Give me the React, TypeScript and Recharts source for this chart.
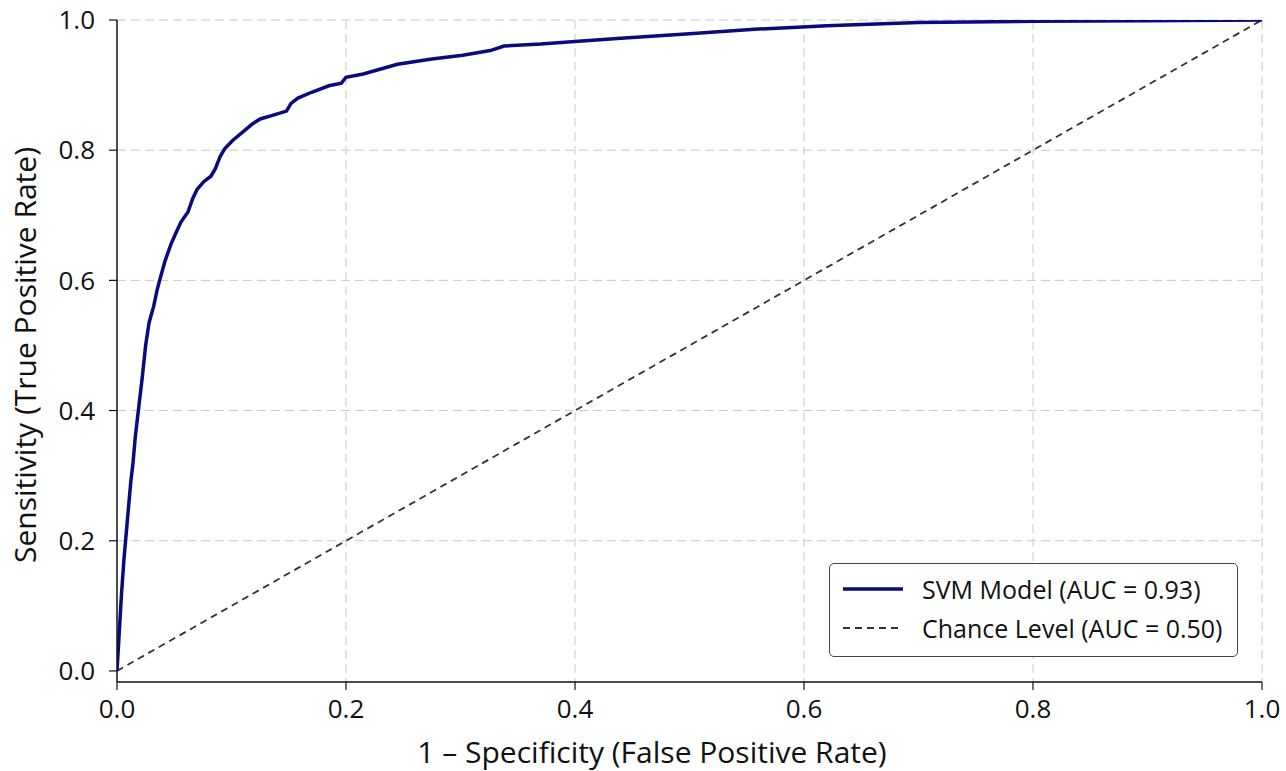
import { CartesianGrid, Label, Line, LineChart, XAxis, YAxis } from "recharts";

// ROC curve (false positive rate, true positive rate)
const fpr = [
  0, 0.002, 0.004, 0.006, 0.008, 0.01, 0.012, 0.014, 0.016, 0.018, 0.02, 0.022, 0.025,
  0.028, 0.032, 0.035, 0.038, 0.042, 0.047, 0.052, 0.056, 0.062, 0.066, 0.07, 0.076,
  0.082, 0.086, 0.09, 0.094, 0.101, 0.11, 0.118, 0.125, 0.135, 0.148, 0.152, 0.158,
  0.17, 0.185, 0.196, 0.2, 0.215, 0.245, 0.275, 0.302, 0.326, 0.338, 0.37, 0.4, 0.44,
  0.5, 0.56, 0.62, 0.7, 0.8, 0.9, 1.0,
];
const tpr = [
  0, 0.06, 0.12, 0.17, 0.21, 0.25, 0.29, 0.32, 0.36, 0.39, 0.42, 0.45, 0.5, 0.535, 0.56,
  0.585, 0.605, 0.63, 0.655, 0.675, 0.69, 0.705, 0.725, 0.74, 0.752, 0.76, 0.772, 0.79,
  0.802, 0.815, 0.828, 0.84, 0.848, 0.853, 0.86, 0.872, 0.88, 0.889, 0.899, 0.903, 0.912,
  0.917, 0.932, 0.94, 0.946, 0.953, 0.96, 0.963, 0.967, 0.972, 0.979, 0.986, 0.991, 0.996,
  0.998, 0.999, 1.0,
];
const chanceFpr = [0, 1];
const chanceTpr = [0, 1];
const ticks = [0, 0.2, 0.4, 0.6, 0.8, 1.0];
const gridValues = [0.2, 0.4, 0.6, 0.8, 1.0];

const rocData = fpr.map((x, i) => ({ fpr: x, tpr: tpr[i] }));
const chanceData = chanceFpr.map((x, i) => ({ fpr: x, tpr: chanceTpr[i] }));

const FONT = "'Open Sans', 'Noto Sans', sans-serif";
const NAVY = "#0a0a80";

function LegendBox() {
  const row = { display: "flex", alignItems: "center", height: 39 } as const;
  return (
    <div
      style={{
        position: "absolute",
        left: 829,
        top: 563,
        border: "1.3px solid #444",
        borderRadius: 5,
        background: "#fff",
        width: 409,
        height: 94,
        boxSizing: "border-box",
        padding: "5px 0 0 13px",
        fontFamily: FONT,
        fontSize: 25,
        color: "#111",
      }}
    >
      <div style={row}>
        <svg width={60} height={10} style={{ marginRight: 19 }}>
          <line x1={0} x2={60} y1={5} y2={5} stroke={NAVY} strokeWidth={3.5} />
        </svg>
        SVM Model (AUC = 0.93)
      </div>
      <div style={row}>
        <svg width={60} height={10} style={{ marginRight: 19 }}>
          <line x1={0} x2={60} y1={5} y2={5} stroke="#333" strokeWidth={1.8} strokeDasharray="7 5" />
        </svg>
        Chance Level (AUC = 0.50)
      </div>
    </div>
  );
}

export default function App() {
  return (
    <div style={{ position: "absolute", left: 0, top: 0, width: 1286, height: 771, background: "#fff" }}>
      <LineChart width={1286} height={771} margin={{ top: 20, right: 24, bottom: 0, left: 0 }}>
        <CartesianGrid
          stroke="#c8c8c8"
          strokeDasharray="9 5"
          horizontalValues={gridValues}
          verticalValues={gridValues}
        />
        <XAxis
          dataKey="fpr"
          type="number"
          domain={[0, 1]}
          ticks={ticks}
          tickFormatter={(v: number) => v.toFixed(1)}
          height={89}
          tickSize={8}
          tickMargin={10}
          axisLine={{ stroke: "#111", strokeWidth: 1.5 }}
          tickLine={{ stroke: "#111", strokeWidth: 1.2 }}
          tick={{ fontSize: 26, fill: "#111", fontFamily: FONT }}
          allowDataOverflow
        >
          <Label
            content={() => (
              <text x={652} y={751} textAnchor="middle" dominantBaseline="central" fontSize={30} fill="#111" fontFamily={FONT}>
                1 – Specificity (False Positive Rate)
              </text>
            )}
          />
        </XAxis>
        <YAxis
          type="number"
          domain={[-0.017, 1]}
          ticks={ticks}
          tickFormatter={(v: number) => v.toFixed(1)}
          width={117}
          tickSize={8}
          tickMargin={14}
          axisLine={{ stroke: "#111", strokeWidth: 1.5 }}
          tickLine={{ stroke: "#111", strokeWidth: 1.2 }}
          tick={{ fontSize: 26, fill: "#111", fontFamily: FONT }}
          allowDataOverflow
        >
          <Label
            content={() => (
              <text
                x={24}
                y={355}
                transform="rotate(-90 24 355)"
                textAnchor="middle"
                dominantBaseline="central"
                fontSize={30}
                fill="#111"
                fontFamily={FONT}
              >
                Sensitivity (True Positive Rate)
              </text>
            )}
          />
        </YAxis>
        <Line
          data={chanceData}
          dataKey="tpr"
          stroke="#333"
          strokeWidth={1.8}
          strokeDasharray="7 5"
          dot={false}
          isAnimationActive={false}
        />
        <Line
          data={rocData}
          dataKey="tpr"
          type="linear"
          stroke={NAVY}
          strokeWidth={3.5}
          dot={false}
          isAnimationActive={false}
        />
      </LineChart>
      <LegendBox />
    </div>
  );
}
